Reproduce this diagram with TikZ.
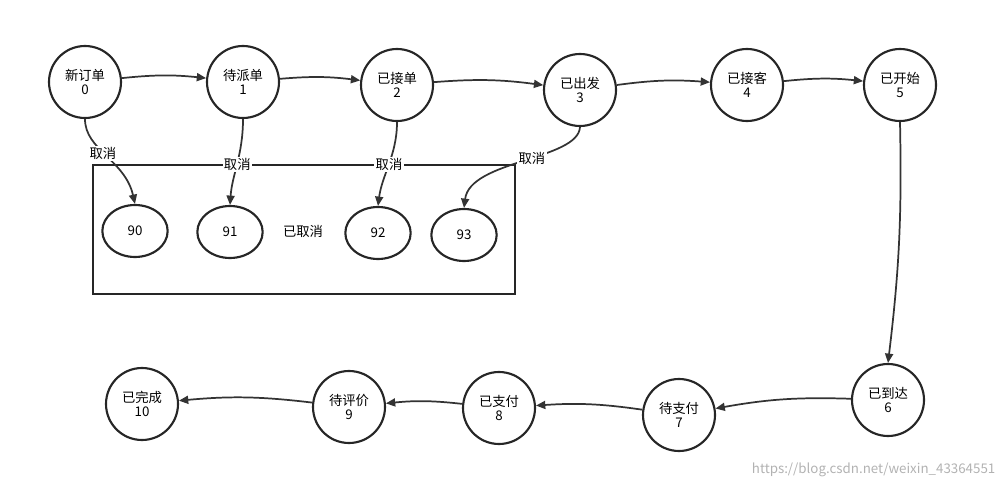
\documentclass[tikz,border=0pt]{standalone}
\usepackage{fontspec}
\setmainfont{Noto Sans CJK SC}
\usetikzlibrary{arrows.meta,shapes.geometric}
\begin{document}
\begin{tikzpicture}[x=0.75pt,y=-0.75pt,
  st/.style={draw=black!85,line width=1.6pt,ellipse,minimum width=54pt,minimum height=54pt,inner sep=0pt,align=center,font=\fontsize{10}{11}\selectfont},
  cn/.style={draw=black!85,line width=1.6pt,ellipse,minimum width=49pt,minimum height=39pt,inner sep=0pt,font=\fontsize{10}{11}\selectfont},
  ar/.style={draw=black!80,line width=1.3pt,-{Triangle[length=7pt,width=6pt]}},
  lb/.style={fill=white,inner sep=1pt,font=\fontsize{10}{11}\selectfont}]
\useasboundingbox (0,0) rectangle (1005,488);
\node[st] (n0) at (85,82) {新订单\\0};
\node[st] (n1) at (243,82) {待派单\\1};
\node[st] (n2) at (397,85) {已接单\\2};
\node[st] (n3) at (580,90) {已出发\\3};
\node[st] (n4) at (747,85) {已接客\\4};
\node[st] (n5) at (900,85) {已开始\\5};
\node[st] (n6) at (888,400) {已到达\\6};
\node[st] (n7) at (679,415) {待支付\\7};
\node[st] (n8) at (499,408) {已支付\\8};
\node[st] (n9) at (349,407) {待评价\\9};
\node[st] (n10) at (142,404) {已完成\\10};
\draw[black!85,line width=1.6pt] (93,165) rectangle (515,294);
\node[cn] (c90) at (135,231) {90};
\node[cn] (c91) at (230,232) {91};
\node[cn] (c92) at (378,233) {92};
\node[cn] (c93) at (464,235) {93};
\node[font=\fontsize{10}{11}\selectfont] (t) at (303,231) {已取消};
\draw[ar] (n0) to[bend left=6] (n1);
\draw[ar] (n1) to[bend left=6] (n2);
\draw[ar] (n2) to[bend left=6] (n3);
\draw[ar] (n3) to[bend left=6] (n4);
\draw[ar] (n4) to[bend left=6] (n5);
\draw[ar] (n5.south) to[bend left=4] (n6.north);
\draw[ar] (n6) to[bend left=-6] (n7);
\draw[ar] (n7) to[bend left=-6] (n8);
\draw[ar] (n8) to[bend left=-6] (n9);
\draw[ar] (n9) to[bend left=-6] (n10);
\draw[ar] (n0.south) .. controls (85,150) and (125,160) .. node[lb,pos=0.45]{取消} (c90.north);
\draw[ar] (n1.south) .. controls (243,155) and (232,175) .. node[lb,pos=0.5]{取消} (c91.north);
\draw[ar] (n2.south) .. controls (397,155) and (382,175) .. node[lb,pos=0.5]{取消} (c92.north);
\draw[ar] (n3.south) .. controls (578,160) and (470,160) .. node[lb,pos=0.45]{取消} (c93.north);
\node[text=black!30,font=\fontsize{10}{11}\selectfont,anchor=east] (w) at (1000,470) {https://blog.csdn.net/weixin\_43364551};
\end{tikzpicture}
\end{document}
